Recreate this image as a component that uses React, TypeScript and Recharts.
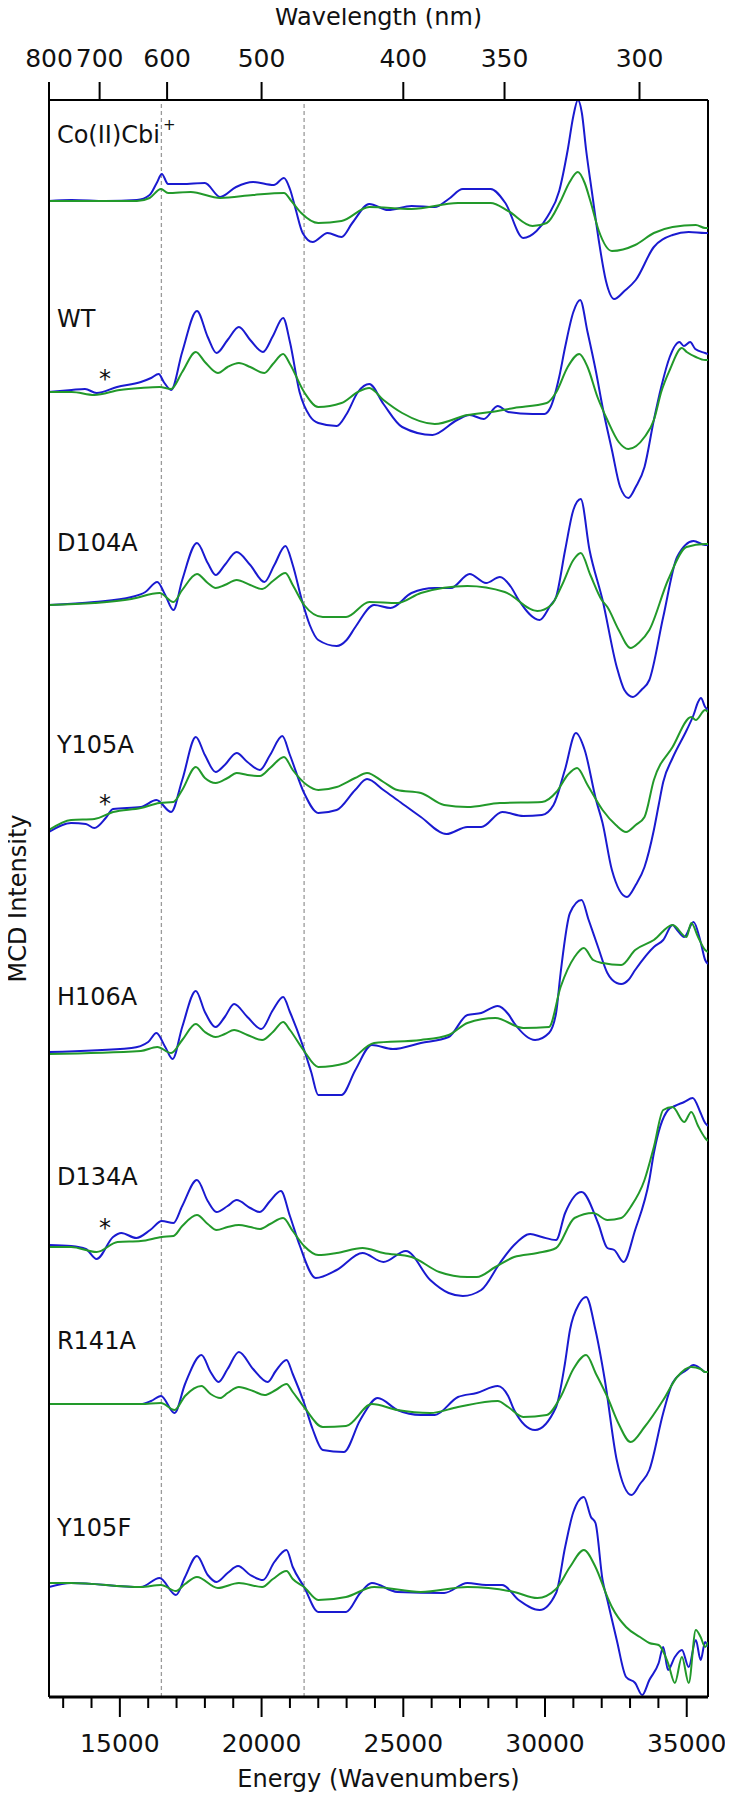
import React from 'react';
import { LineChart, Line, XAxis, YAxis, ReferenceLine, ReferenceDot, Label } from 'recharts';

const FONT = 'DejaVu Sans, sans-serif';
const BLUE = '#1a1ad0';
const GREEN = '#22992a';

// axes
const energyDomain = [12500, 35750];
const energyTicks = [13000, 14000, 15000, 16000, 17000, 18000, 19000, 20000, 21000, 22000, 23000, 24000,
    25000, 26000, 27000, 28000, 29000, 30000, 31000, 32000, 33000, 34000, 35000];
const wavelengths = [800, 700, 600, 500, 400, 350, 300];
const dashedEnergies = [16465, 21500];

// samples, stacked with a vertical offset (arbitrary MCD units)
const samples = ['Co(II)Cbi', 'WT', 'D104A', 'Y105A', 'H106A', 'D134A', 'R141A', 'Y105F'];
const offsets = [1496, 1305, 1092, 867, 645, 451, 293, 110];
const labelLevels = [1554, 1370, 1146, 944, 692, 512, 348, 161];
const starLevels = [1310, 885, 461];

// [energy (cm-1), MCD] pairs
const cbiBlue = [[12500, 0], [13300, 1], [14500, 0], [15600, 1], [16050, 6], [16300, 18], [16480, 27], [16700, 17],
    [17200, 17], [18000, 18], [18540, 4], [19100, 14], [19700, 19], [20430, 16], [20790, 23], [21000, 12], [21200, -8],
    [21450, -32], [21800, -41], [22330, -32], [22820, -36], [23200, -22], [23800, -3], [24460, -9], [25290, -5],
    [26110, -6], [26600, 2], [27100, 12], [28080, 12], [28600, -2], [29230, -37], [29700, -30], [30100, -15],
    [30500, 10], [30800, 51], [31000, 85], [31160, 101], [31300, 88], [31450, 51], [31650, 10], [31900, -40],
    [32150, -80], [32440, -98], [32800, -90], [33200, -79], [33840, -46], [34500, -34], [35070, -31], [35650, -32],
    [35750, -32]];
const cbiGreen = [[12500, 0], [15600, 0], [16050, 3], [16450, 12], [16700, 8], [17500, 9], [18540, 3], [19700, 6],
    [20790, 8], [21050, 0], [21400, -12], [22000, -22], [22820, -20], [23800, -6], [25290, -8], [26930, -2],
    [28080, -2], [28700, -10], [29560, -25], [30060, -22], [30550, 0], [30850, 18], [31160, 29], [31400, 18],
    [31600, 0], [31900, -30], [32360, -50], [33180, -44], [33840, -32], [34500, -26], [35320, -24], [35650, -27],
    [35750, -27]];

const wtBlue = [[12500, 0], [13300, 2], [13770, 3], [14180, -1], [14900, 5], [15740, 10], [16100, 14], [16370, 18],
    [16550, 10], [16810, 2], [17200, 40], [17720, 81], [18100, 55], [18410, 39], [18800, 52], [19200, 65], [19600, 52],
    [20050, 40], [20400, 56], [20760, 74], [21000, 50], [21340, 0], [21700, -24], [22000, -31], [22650, -34],
    [23000, -22], [23400, 0], [23800, 8], [24300, -12], [24960, -35], [26030, -43], [26900, -28], [27340, -23],
    [27840, -27], [28330, -14], [28700, -20], [29560, -22], [29980, -22], [30200, -15], [30500, 15], [30710, 45],
    [31000, 80], [31240, 92], [31500, 60], [31800, 20], [32030, -15], [32360, -58], [32650, -95], [32940, -106],
    [33200, -95], [33510, -75], [33840, -28], [34100, 5], [34400, 35], [34740, 50], [34900, 46], [35120, 50],
    [35300, 43], [35650, 39], [35750, 38]];
const wtGreen = [[12500, 0], [13300, 0], [14100, -3], [15000, 2], [15740, 4], [16400, 5], [16810, 3], [17200, 20],
    [17680, 40], [18000, 30], [18460, 19], [18800, 25], [19200, 29], [19600, 25], [20100, 19], [20400, 28],
    [20760, 38], [21000, 28], [21500, 0], [22000, -15], [22820, -11], [23400, 0], [23800, 4], [24300, -8],
    [24960, -21], [26110, -32], [27260, -23], [28080, -20], [28910, -16], [30060, -11], [30400, 0], [30800, 25],
    [31210, 38], [31500, 25], [31850, -5], [32200, -28], [32600, -50], [32940, -57], [33510, -45], [33840, -28],
    [34100, 0], [34400, 22], [34830, 44], [35000, 40], [35320, 35], [35650, 32], [35750, 32]];

const d104Blue = [[12500, 0], [14100, 3], [15410, 8], [15900, 13], [16320, 23], [16600, 10], [16890, -5], [17200, 25],
    [17720, 62], [18100, 42], [18380, 30], [18700, 40], [19120, 53], [19600, 40], [20100, 23], [20450, 40],
    [20840, 59], [21100, 40], [21420, 5], [21700, -20], [22000, -35], [22650, -41], [23000, -35], [23310, -22],
    [23970, 0], [24550, -3], [25290, 12], [26110, 17], [26680, 17], [27340, 31], [27920, 22], [28410, 28],
    [28800, 18], [29070, 5], [29810, -15], [30200, 0], [30390, 8], [30710, 55], [31000, 95], [31260, 106],
    [31570, 55], [32030, 5], [32530, -62], [32800, -85], [33100, -92], [33400, -85], [33680, -75], [34170, -12],
    [34660, 48], [35240, 64], [35650, 60], [35750, 60]];
const d104Green = [[12500, 0], [14100, 2], [15410, 6], [16400, 12], [16890, 3], [17200, 15], [17720, 31], [18100, 22],
    [18380, 17], [18700, 20], [19120, 25], [19600, 20], [20020, 16], [20400, 24], [20840, 32], [21100, 20],
    [21500, 0], [22160, -12], [22980, -12], [23800, 3], [24790, 2], [25620, 12], [27260, 19], [28580, 13],
    [29730, -6], [30220, 0], [30600, 20], [31000, 45], [31260, 52], [31600, 30], [32000, 5], [32200, -2],
    [32600, -25], [33020, -43], [33300, -38], [33680, -25], [34340, 25], [34990, 58], [35650, 61], [35750, 61]];

const y105aBlue = [[12500, -2], [13280, 7], [13800, 6], [14100, 2], [14500, 12], [14760, 21], [15740, 23],
    [16290, 30], [16810, 18], [17200, 50], [17680, 93], [18000, 75], [18380, 58], [18700, 65], [19120, 77],
    [19500, 68], [19940, 60], [20300, 75], [20730, 94], [21000, 75], [21500, 37], [22000, 17], [22650, 20],
    [23300, 40], [23720, 51], [24300, 40], [24790, 30], [25620, 13], [26520, -4], [27260, 3], [27750, 3],
    [28490, 18], [29230, 14], [29890, 15], [30300, 25], [30700, 60], [31090, 97], [31400, 80], [31800, 30],
    [32030, 7], [32360, -40], [32890, -67], [33200, -55], [33510, -37], [33840, 0], [34010, 25], [34170, 48],
    [34500, 72], [35000, 100], [35240, 115], [35400, 128], [35500, 132], [35650, 123], [35750, 120]];
const y105aGreen = [[12500, 0], [13280, 10], [14100, 11], [14760, 18], [15740, 22], [16400, 27], [16890, 28],
    [17200, 40], [17680, 63], [18000, 52], [18380, 47], [18800, 52], [19120, 57], [19500, 55], [19940, 54],
    [20300, 62], [20790, 73], [21100, 60], [21600, 45], [22000, 40], [22650, 43], [23300, 52], [23720, 57],
    [24300, 48], [24790, 40], [25620, 37], [26440, 25], [27260, 23], [28410, 27], [29890, 28], [30400, 38],
    [30800, 55], [31130, 62], [31500, 45], [32030, 20], [32500, 5], [32860, -2], [33200, 5], [33510, 13],
    [33840, 50], [34500, 83], [35160, 113], [35320, 110], [35650, 120], [35750, 118]];

const h106Blue = [[12500, 0], [15410, 4], [16000, 10], [16290, 19], [16600, 5], [16860, -7], [17200, 25], [17680, 61],
    [18000, 40], [18380, 25], [18700, 35], [19030, 48], [19500, 35], [19990, 23], [20400, 42], [20760, 55],
    [21000, 40], [21420, 9], [21750, -20], [22000, -43], [22820, -43], [23310, -18], [23890, 7], [24630, 3],
    [25620, 9], [26600, 15], [27260, 37], [27750, 39], [28330, 46], [28700, 38], [28910, 29], [29650, 12],
    [30140, 19], [30390, 39], [30550, 79], [30880, 139], [31290, 152], [31540, 132], [31870, 105], [32200, 79],
    [32530, 69], [32690, 68], [32940, 72], [33180, 82], [33840, 105], [34170, 112], [34500, 127], [34660, 122],
    [34910, 115], [35240, 130], [35490, 110], [35650, 92], [35750, 88]];
const h106Green = [[12500, -2], [15740, 1], [16320, 5], [16810, -1], [17200, 12], [17680, 28], [18000, 20], [18380, 15],
    [18700, 18], [19030, 22], [19500, 17], [20020, 12], [20400, 20], [20760, 30], [21000, 22], [21500, 1],
    [22000, -15], [22980, -11], [23970, 9], [25620, 12], [26600, 17], [27260, 29], [28250, 34], [29230, 24],
    [30140, 25], [30550, 65], [31040, 95], [31370, 104], [31700, 92], [32030, 89], [32690, 87], [33180, 102],
    [33840, 112], [34500, 127], [34990, 115], [35160, 129], [35400, 115], [35650, 102], [35750, 100]];

const d134Blue = [[12500, 1], [13280, 0], [13800, -3], [14180, -13], [14760, 9], [15050, 13], [15580, 8], [16070, 16],
    [16480, 25], [16890, 23], [17200, 40], [17720, 66], [18100, 45], [18410, 34], [18800, 40], [19120, 46],
    [19600, 38], [19940, 34], [20300, 45], [20680, 55], [21000, 30], [21340, 1], [21910, -32], [22650, -24],
    [23560, -7], [24300, -16], [25090, -5], [25950, -34], [26600, -47], [27100, -50], [27750, -44], [28410, -17],
    [28910, 1], [29480, 12], [29890, 9], [30390, 6], [30710, 33], [31290, 54], [31870, 23], [32200, -2],
    [32440, -4], [32770, -16], [33180, 16], [33680, 66], [33840, 93], [34340, 136], [34580, 140], [34910, 144],
    [35210, 148], [35490, 133], [35650, 123], [35750, 120]];
const d134Green = [[12500, -1], [13280, -1], [14180, -6], [14920, 4], [15740, 5], [16480, 9], [16890, 10], [17200, 20],
    [17720, 31], [18100, 22], [18410, 16], [18800, 19], [19200, 21], [19600, 19], [19940, 17], [20300, 22],
    [20760, 28], [21100, 15], [21500, 0], [22000, -9], [22650, -7], [23560, -2], [24300, -7], [25290, -11],
    [26270, -26], [27260, -31], [27590, -31], [28250, -21], [28910, -11], [29730, -7], [30390, -2], [31040, 28],
    [31700, 33], [32200, 26], [32690, 28], [33020, 39], [33510, 66], [33840, 99], [34170, 136], [34500, 139],
    [34910, 124], [35160, 134], [35400, 120], [35650, 108], [35750, 105]];

const r141Blue = [[12500, 0], [15740, 0], [16100, 3], [16450, 8], [16930, -9], [17300, 20], [17880, 49], [18200, 32],
    [18480, 22], [18800, 35], [19200, 52], [19700, 35], [20220, 22], [20500, 33], [20880, 44], [21100, 30],
    [21500, 1], [21800, -25], [22160, -46], [22900, -48], [23480, -16], [24100, 6], [24790, -6], [25620, -11],
    [26110, -11], [26930, 7], [27590, 11], [28330, 18], [28700, 8], [28910, -6], [29650, -26], [30390, -3],
    [30700, 40], [30880, 74], [31200, 100], [31450, 107], [31780, 74], [32110, 24], [32530, -56], [33050, -91],
    [33350, -80], [33680, -66], [34170, -9], [34500, 21], [34990, 34], [35240, 39], [35500, 35], [35650, 32],
    [35750, 32]];
const r141Green = [[12500, 0], [15740, 0], [16450, 1], [16930, -6], [17300, 8], [17880, 18], [18200, 10], [18540, 6],
    [18800, 11], [19200, 17], [19700, 13], [20100, 9], [20500, 14], [20880, 20], [21100, 12], [21500, -3],
    [22160, -23], [22980, -22], [23890, 0], [24790, -6], [25950, -9], [26930, -3], [28330, 3], [28700, -3],
    [29230, -13], [30060, -11], [30550, 7], [31000, 35], [31450, 49], [31800, 30], [32200, 7], [32600, -20],
    [33020, -38], [33510, -23], [34170, 4], [34660, 27], [35160, 37], [35490, 35], [35650, 32], [35750, 32]];

const y105fBlue = [[12500, 0], [13280, 4], [15740, 0], [16400, 9], [16980, -8], [17300, 10], [17720, 31], [18100, 12],
    [18410, 5], [18800, 14], [19170, 21], [19600, 12], [20050, 7], [20450, 25], [20880, 37], [21100, 20], [21500, 0],
    [22000, -25], [22980, -25], [23480, -6], [23890, 4], [24790, -5], [26440, -6], [27260, 4], [27920, 2],
    [28490, 2], [29070, -13], [29810, -23], [30390, -6], [30710, 40], [31000, 75], [31370, 90], [31620, 70],
    [31780, 64], [32030, 7], [32200, -13], [32530, -53], [32860, -90], [33180, -96], [33430, -108], [33680, -93],
    [34010, -76], [34170, -60], [34340, -83], [34580, -70], [34830, -63], [35070, -80], [35320, -53], [35490, -73],
    [35650, -55], [35750, -60]];
const y105fGreen = [[12500, 4], [13280, 4], [15740, 0], [16450, 2], [16980, -4], [17300, 3], [17720, 10], [18460, -1],
    [19200, 4], [20020, 0], [20400, 8], [20880, 16], [21100, 8], [21500, 0], [22000, -13], [22980, -10],
    [23970, 0], [25620, -5], [27260, 0], [28910, -5], [29730, -11], [30390, -2], [30880, 20], [31370, 37],
    [31780, 20], [32200, -10], [32360, -20], [32860, -40], [33350, -50], [33680, -56], [34010, -58], [34340, -76],
    [34580, -96], [34830, -70], [35070, -96], [35320, -43], [35490, -50], [35650, -60], [35750, -55]];

const blueSets = [cbiBlue, wtBlue, d104Blue, y105aBlue, h106Blue, d134Blue, r141Blue, y105fBlue];
const greenSets = [cbiGreen, wtGreen, d104Green, y105aGreen, h106Green, d134Green, r141Green, y105fGreen];

const toRows = (pts: number[][], offset: number) => pts.map(([e, v]) => ({ e, y: v + offset }));

const EnergyTick = (props: any) => {
    const { x, y, payload } = props;
    const major = payload.value % 5000 === 0;
    return (
        <g>
            <line x1={x} x2={x} y1={y} y2={y + (major ? 20 : 11)} stroke="#000" strokeWidth={2} />
            {major && (
                <text x={x} y={y + 55} textAnchor="middle" fontSize={25} fontFamily={FONT} fill="#111">
                    {payload.value}
                </text>
            )}
        </g>
    );
};

const WavelengthTick = (props: any) => {
    const { x, y, payload } = props;
    return (
        <g>
            <line x1={x} x2={x} y1={y} y2={y - 18} stroke="#000" strokeWidth={2} />
            <text x={x} y={y - 33} textAnchor="middle" fontSize={25} fontFamily={FONT} fill="#111">
                {Math.round(1e7 / payload.value)}
            </text>
        </g>
    );
};

const SampleLabel = (props: any) => {
    const { viewBox, name } = props;
    if (!viewBox) return null;
    return (
        <text x={viewBox.x} y={viewBox.y} fontSize={24} fontFamily={FONT} fill="#111">
            {name}
            {name === 'Co(II)Cbi' && <tspan dx={3} dy={-13} fontSize={15}>+</tspan>}
        </text>
    );
};

const Star = (props: any) => {
    const { viewBox } = props;
    if (!viewBox) return null;
    return (
        <text x={viewBox.x} y={viewBox.y} textAnchor="middle" fontSize={24} fontFamily={FONT} fill="#111">*</text>
    );
};

const axisTitle = (text: string, dx: number, dy: number, rotate?: boolean) => (p: any) => {
    const vb = p.viewBox || { x: 0, y: 0, width: 0, height: 0 };
    const x = rotate ? vb.x + dx : vb.x + vb.width / 2;
    const y = rotate ? vb.y + vb.height / 2 : vb.y + dy;
    return (
        <text x={x} y={y} textAnchor="middle" fontSize={24} fontFamily={FONT} fill="#111"
            transform={rotate ? `rotate(-90 ${x} ${y})` : undefined}>
            {text}
        </text>
    );
};

export default function App() {
    // pull the chart over the body margin so the titles sit at the page edge
    return (
        <div style={{ width: 733, height: 1800, margin: '-8px 0 0 -8px' }}>
            <LineChart width={733} height={1800} margin={{ top: 0, right: 25, bottom: 0, left: 0 }}>
                <XAxis dataKey="e" type="number" domain={energyDomain} allowDataOverflow ticks={energyTicks}
                    interval={0} height={103} tickSize={0} tickMargin={0} tickLine={false}
                    tick={<EnergyTick />} axisLine={{ stroke: '#000', strokeWidth: 3 }}>
                    <Label content={axisTitle('Energy (Wavenumbers)', 0, 90)} />
                </XAxis>
                <XAxis xAxisId="top" orientation="top" dataKey="e" type="number" domain={energyDomain}
                    allowDataOverflow ticks={wavelengths.map((w) => 1e7 / w)} interval={0} height={100}
                    tickSize={0} tickMargin={0} tickLine={false} tick={<WavelengthTick />}
                    axisLine={{ stroke: '#000', strokeWidth: 2 }}>
                    <Label content={axisTitle('Wavelength (nm)', 0, 25)} />
                </XAxis>
                <YAxis type="number" domain={[0, 1597]} allowDataOverflow width={49} tick={false} tickLine={false}
                    axisLine={{ stroke: '#000', strokeWidth: 2 }}>
                    <Label content={axisTitle('MCD Intensity', 25.5, 0, true)} />
                </YAxis>

                {dashedEnergies.map((e) => (
                    <ReferenceLine key={e} x={e} stroke="#9a9a9a" strokeWidth={1.3} strokeDasharray="4 3" />
                ))}
                <ReferenceLine x={energyDomain[1]} stroke="#000" strokeWidth={2} />

                {samples.map((s, i) => (
                    <Line key={'b' + s} data={toRows(blueSets[i], offsets[i])} dataKey="y" type="monotone"
                        stroke={BLUE} strokeWidth={2} dot={false} isAnimationActive={false} />
                ))}
                {samples.map((s, i) => (
                    <Line key={'g' + s} data={toRows(greenSets[i], offsets[i])} dataKey="y" type="monotone"
                        stroke={GREEN} strokeWidth={2} dot={false} isAnimationActive={false} />
                ))}

                {samples.map((s, i) => (
                    <ReferenceDot key={'l' + s} x={12780} y={labelLevels[i]} r={0} ifOverflow="visible"
                        label={<SampleLabel name={s} />} />
                ))}
                {starLevels.map((y, i) => (
                    <ReferenceDot key={'s' + i} x={14480} y={y} r={0} ifOverflow="visible" label={<Star />} />
                ))}
            </LineChart>
        </div>
    );
}
